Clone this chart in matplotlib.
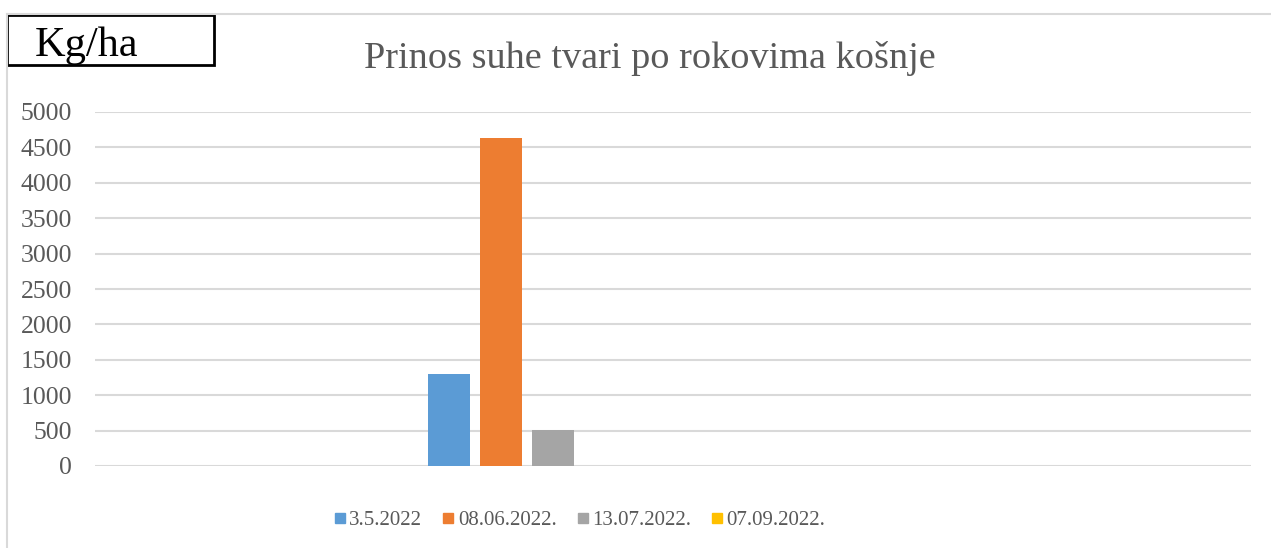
## dry matter yield chart

import matplotlib.pyplot as plt
from matplotlib.lines import Line2D
from matplotlib.patches import Rectangle

plt.rcParams['font.family'] = ['Liberation Serif', 'DejaVu Serif']

dates = ["3.5.2022", "08.06.2022.", "13.07.2022.", "07.09.2022."]
yields = [1300, 4630, 510, 0]
colors = ["#5b9bd5", "#ed7d31", "#a5a5a5", "#ffc000"]

W, H = 1271, 548
fig = plt.figure(figsize=(W / 100, H / 100), dpi=100)
ax = fig.add_axes([95 / W, 1 - 466 / H, (1251 - 95) / W, (466 - 112) / H])

# bars sit left of centre as in the original sheet
group_center = 0.3733
pitch = 52 / 1156
width = 42 / 1156
for i, (d, v, c) in enumerate(zip(dates, yields, colors)):
    ax.bar(group_center + (i - 1.5) * pitch, v, width, color=c, zorder=3)

ax.set_xlim(0, 1)
ax.set_ylim(0, 5000)
ax.set_yticks(range(0, 5001, 500))
ax.set_xticks([])
ax.yaxis.grid(True, color="#d9d9d9", linewidth=1.5)
ax.set_axisbelow(True)
for s in ax.spines.values():
    s.set_visible(False)
ax.tick_params(axis="y", length=0, pad=16.5, labelsize=18.5, labelcolor="#595959")

fig.text(650 / W, 1 - 59 / H, "Prinos suhe tvari po rokovima košnje",
         ha="center", va="center", fontsize=27.5, color="#595959")

# chart area border (top and left)
fig.add_artist(Line2D([7 / W, 1], [1 - 14 / H] * 2, color="#d9d9d9", lw=1.5))
fig.add_artist(Line2D([7 / W] * 2, [0, 1 - 14 / H], color="#d9d9d9", lw=1.5))

# unit label box
fig.add_artist(Rectangle((7 / W, 1 - 65 / H), (214 - 7) / W, (65 - 15) / H,
                         transform=fig.transFigure, fill=True, facecolor="white",
                         edgecolor="black", lw=2))
fig.text(35 / W, 1 - 46 / H, "Kg/ha", ha="left", va="center", fontsize=30.5, color="black")

handles = [Line2D([], [], marker="s", linestyle="none", markersize=7.5,
                  color=c) for c in colors]
fig.legend(handles, dates, loc="center", bbox_to_anchor=(580 / W, 1 - 520 / H),
           ncol=4, frameon=False, fontsize=15, labelcolor="#595959",
           handletextpad=0.2, columnspacing=1.0, handlelength=0.5)

plt.savefig("out.png", dpi=100)
